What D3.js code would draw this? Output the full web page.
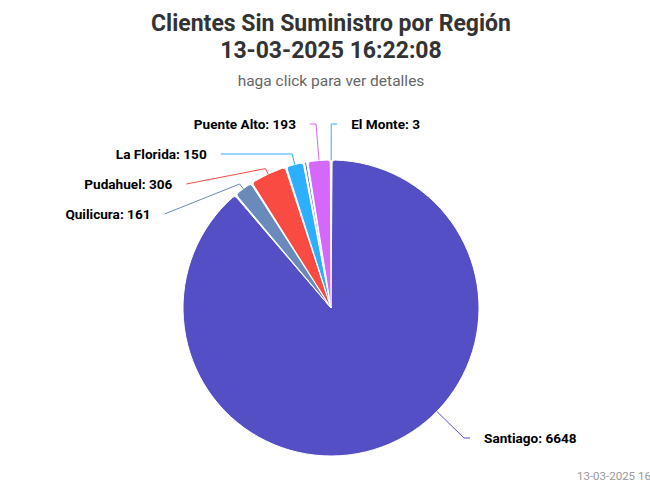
<!DOCTYPE html>
<html lang="es">
<head>
<meta charset="UTF-8">
<title>Clientes Sin Suministro por Región</title>
<script src="https://cdn.jsdelivr.net/npm/d3@7"></script>
<style>
  body { margin: 0; overflow: hidden; background: #fff; }
  svg { display: block; font-family: Roboto, "Noto Sans", sans-serif; }
</style>
</head>
<body>
<script>
// data, in series order (clockwise from 12 o'clock)
const regions = ["El Monte", "Santiago", "Quilicura", "Pudahuel", "La Florida", "", "Puente Alto"];
const clientes = [3, 6648, 161, 306, 150, 27, 193];
const colores = ["#2caffe", "#544fc5", "#6b8abc", "#fa4b42", "#2caffe", "#544fc5", "#d568fb"];

const titulo = ["Clientes Sin Suministro por Región", "13-03-2025 16:22:08"];
const subtitulo = "haga click para ver detalles";
const creditos = "13-03-2025 16:22:08";

const width = 662, height = 487;
const cx = 331, cy = 308, r = 148;
const R = r + 38;            // label ring
const labelTop = 124, labelBottom = 438, spacing = 30;

const svg = d3.select("body").append("svg")
    .attr("width", width)
    .attr("height", height);

// titles
svg.append("text")
    .attr("text-anchor", "middle")
    .attr("fill", "#333333")
    .style("font-size", "23px")
    .style("font-weight", "bold")
    .selectAll("tspan")
    .data(titulo)
    .join("tspan")
    .attr("x", width / 2)
    .attr("y", (d, i) => 31 + i * 26.5)
    .text(d => d);

svg.append("text")
    .attr("x", width / 2)
    .attr("y", 86)
    .attr("text-anchor", "middle")
    .attr("fill", "#666666")
    .style("font-size", "15.5px")
    .text(subtitulo);

// credits run past the right edge, as in the original
svg.append("text")
    .attr("x", 577)
    .attr("y", 480)
    .attr("fill", "#999999")
    .style("font-size", "11.5px")
    .text(creditos);

// pie
const pie = d3.pie().sort(null).startAngle(0).endAngle(2 * Math.PI)
    .value(i => clientes[i]);
const arcs = pie(d3.range(clientes.length));

const arc = d3.arc()
    .innerRadius(0)
    .outerRadius(r)
    .cornerRadius(3)
    .padAngle(0.01)
    .padRadius(r);

const g = svg.append("g").attr("transform", `translate(${cx},${cy})`);

g.selectAll("path")
    .data(arcs)
    .join("path")
    .attr("d", arc)
    .attr("fill", d => colores[d.data])
    .attr("stroke", "#ffffff")
    .attr("stroke-width", 1)
    .attr("stroke-linejoin", "round");

// labels: natural position on the label ring, then spread per side
const ray = (a, t) => [cx + t * Math.sin(a), cy - t * Math.cos(a)];

const labels = arcs.filter(d => regions[d.data] !== "").map(d => {
    const mid = (d.startAngle + d.endAngle) / 2;
    return {
        d, mid,
        left: Math.sin(mid) < 0,
        natY: cy - R * Math.cos(mid)
    };
});

function spread(items) {
    items.sort((a, b) => a.natY - b.natY);
    let clusters = items.map(it => ({ items: [it], target: it.natY }));
    const place = c => {
        const n = c.items.length;
        let top = c.target - (n - 1) * spacing / 2;
        top = Math.max(labelTop, Math.min(labelBottom - (n - 1) * spacing, top));
        c.items.forEach((it, k) => it.y = top + k * spacing);
    };
    let merged = true;
    while (merged) {
        merged = false;
        clusters.forEach(place);
        for (let k = 1; k < clusters.length; k++) {
            const a = clusters[k - 1], b = clusters[k];
            if (b.items[0].y - a.items[a.items.length - 1].y < spacing) {
                const all = a.items.concat(b.items);
                clusters.splice(k - 1, 2, { items: all, target: d3.mean(all, it => it.natY) });
                merged = true;
                break;
            }
        }
    }
}
spread(labels.filter(l => l.left));
spread(labels.filter(l => !l.left));

labels.forEach(l => {
    const s = l.left ? -1 : 1;
    // labels pushed down at the top keep their natural x
    const dy = (l.natY < labelTop ? l.natY : l.y) - cy;
    l.x = cx + s * (Math.sqrt(Math.max(0, R * R - dy * dy)) + 20);

    // where the connector meets the slice
    let theta = l.mid;
    let elbow;
    const t = (cy - l.y) / Math.cos(theta);
    if (t >= r + 6 && t <= R) {
        elbow = [ray(theta, t)[0], l.y];
    } else {
        const ex = s * Math.sqrt(Math.max(0, R * R - (l.y - cy) ** 2));
        let phi = Math.atan2(ex, cy - l.y);
        if (phi < 0) phi += 2 * Math.PI;
        if (phi > l.d.startAngle && phi < l.d.endAngle) {
            theta = phi;
            elbow = [cx + ex, l.y];
        } else {
            elbow = ray(theta, r + 6);
        }
    }
    l.points = [ray(theta, r), elbow, [l.x - s * 14, l.y]];
});

svg.append("g")
    .attr("fill", "none")
    .attr("stroke-width", 1)
    .selectAll("path")
    .data(labels)
    .join("path")
    .attr("stroke", l => colores[l.d.data])
    .attr("d", l => d3.line()(l.points));

svg.append("g")
    .style("font-size", "13.6px")
    .style("font-weight", "bold")
    .attr("fill", "#000000")
    .selectAll("text")
    .data(labels)
    .join("text")
    .attr("x", l => l.x)
    .attr("y", l => l.y + 5)
    .attr("text-anchor", l => l.left ? "end" : "start")
    .text(l => `${regions[l.d.data]}: ${clientes[l.d.data]}`);
</script>
</body>
</html>
